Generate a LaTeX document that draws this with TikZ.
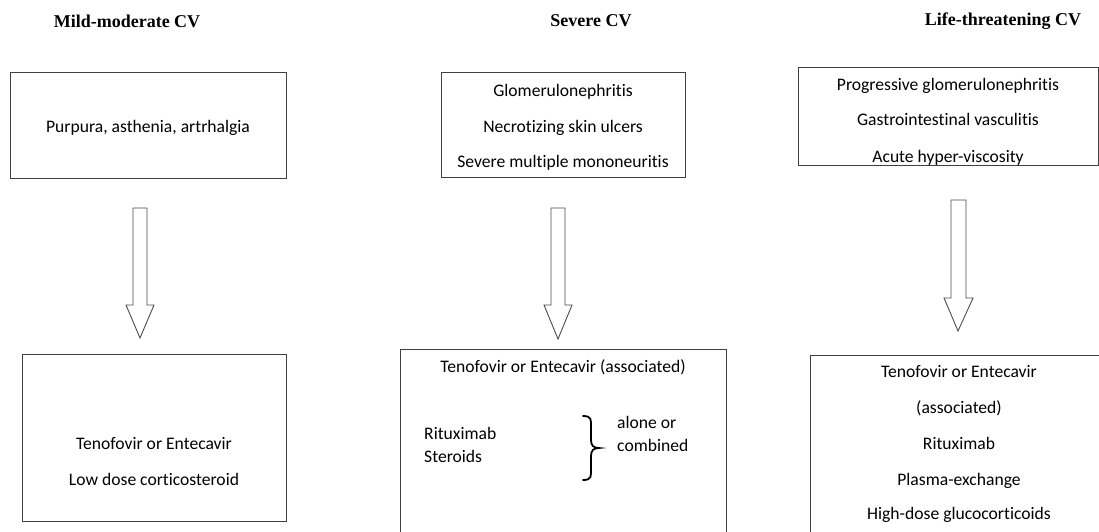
\documentclass[tikz,border=0pt]{standalone}
\usepackage{fontspec}
\setmainfont[Ligatures={NoCommon}]{Carlito}
\newfontfamily\titlefont{Liberation Serif}
\begin{document}
\begin{tikzpicture}[x=1pt,y=-1pt,
  box/.style={draw=black!75,line width=1.1pt,inner sep=0pt,anchor=north west},
  txt/.style={inner sep=0pt,font=\fontsize{17.6}{20}\selectfont,text height=12pt,text depth=4pt},
  ttl/.style={inner sep=0pt,font=\titlefont\bfseries\fontsize{18}{20}\selectfont},
  blockarrow/.style={draw=black!70,line width=0.9pt,fill=white,line join=miter}]
\useasboundingbox (0,0) rectangle (1099,531);
\clip (0,0) rectangle (1099,531);
% titles
\node[ttl] (t1) at (127,21) {Mild-moderate CV};
\node[ttl] (t2) at (591,21) {Severe CV};
\node[ttl] (t3) at (1003,21) {Life-threatening CV};
% top boxes
\node[box,minimum width=276pt,minimum height=106pt] (b1) at (10,72) {};
\node[box,minimum width=244pt,minimum height=105pt] (b2) at (441,72) {};
\node[box,minimum width=300pt,minimum height=98pt] (b3) at (798,67) {};
\node[txt] (b1a) at (148,128) {Purpura, asthenia, artrhalgia};
\node[txt] (b2a) at (563,92) {Glomerulonephritis};
\node[txt] (b2b) at (563,128) {Necrotizing skin ulcers};
\node[txt] (b2c) at (563,163) {Severe multiple mononeuritis};
\node[txt] (b3a) at (948,86) {Progressive glomerulonephritis};
\node[txt] (b3b) at (948,121) {Gastrointestinal vasculitis};
\begin{scope}
\clip (798,67) rectangle (1098,164);
\node[txt] (b3c) at (948,158) {Acute hyper-viscosity};
\end{scope}
% bottom boxes
\node[box,minimum width=264pt,minimum height=167pt] (c1) at (22,354) {};
\node[box,minimum width=326pt,minimum height=200pt] (c2) at (400,349) {};
\node[box,minimum width=300pt,minimum height=200pt] (c3) at (810,355) {};
\node[txt] (c1a) at (154,445) {Tenofovir or Entecavir};
\node[txt] (c1b) at (154,481) {Low dose corticosteroid};
\node[txt] (c2a) at (563,368) {Tenofovir or Entecavir (associated)};
\node[txt,anchor=west] (c2b) at (424,435) {Rituximab};
\node[txt,anchor=west] (c2c) at (424,458) {Steroids};
\node[txt,anchor=west] (c2d) at (617,424) {alone or};
\node[txt,anchor=west] (c2e) at (617,447) {combined};
\node[txt] (c3a) at (959,373) {Tenofovir or Entecavir};
\node[txt] (c3b) at (959,409) {(associated)};
\node[txt] (c3c) at (959,445) {Rituximab};
\node[txt] (c3d) at (959,481) {Plasma-exchange};
\node[txt] (c3e) at (959,515) {High-dose glucocorticoids};
% brace
\draw[line width=1.8pt,line cap=round] (583,416) .. controls (592,416) and (591,420) .. (591,428)
  -- (591,440) .. controls (591,446) and (594,448) .. (599,448)
  .. controls (594,448) and (591,450) .. (591,456) -- (591,468)
  .. controls (591,476) and (592,480) .. (583,480);
% block arrows
\draw[blockarrow] (133,208) -- (147,208) -- (147,305) -- (154,305) -- (140,338) -- (126,305) -- (133,305) -- cycle;
\draw[blockarrow] (551,208) -- (565,208) -- (565,305) -- (572,305) -- (558,339) -- (544,305) -- (551,305) -- cycle;
\draw[blockarrow] (951,200) -- (966,200) -- (966,298) -- (973,298) -- (958,331) -- (944,298) -- (951,298) -- cycle;
\end{tikzpicture}
\end{document}
